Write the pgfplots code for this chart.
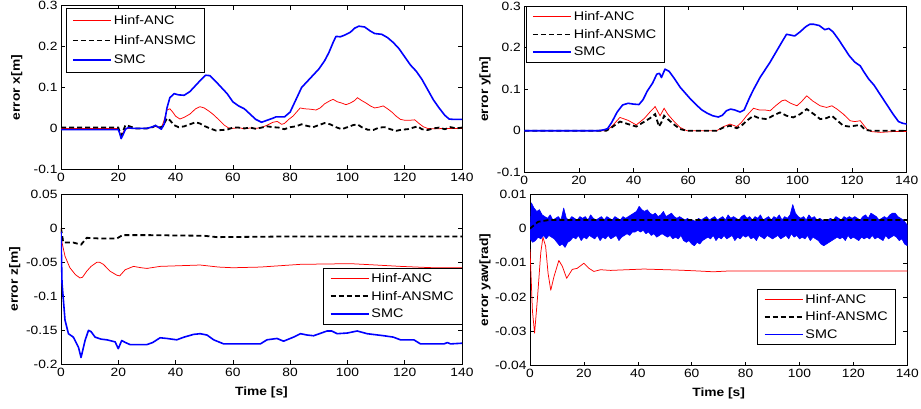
\documentclass[border=0pt]{standalone}
\usepackage{fontspec}
\setmainfont{Liberation Sans}[FakeStretch=1.15]
\usepackage{pgfplots}
\pgfplotsset{compat=1.18}
\pgfplotsset{
 common/.style={
  scale only axis, xmin=0, xmax=140, xtick={0,20,...,140},
  tick align=inside, major tick length=4pt,
  every tick/.style={black, line width=0.5pt},
  axis line style={line width=0.6pt},
  tick label style={font=\fontsize{12}{14}\selectfont},
  /pgf/number format/assume math mode=true,
  /pgf/number format/fixed, /pgf/number format/precision=2,
  scaled ticks=false,
  label style={font=\bfseries\fontsize{12}{14}\selectfont},
  ylabel style={anchor=center},
  legend cell align=left,
  legend style={draw=black, line width=0.5pt, fill=white, font=\fontsize{12.5}{14}\selectfont, inner xsep=6pt, inner ysep=3pt, row sep=3pt},
  legend image code/.code={\draw[##1] (0pt,0pt) -- (38pt,0pt);},
 },
 anc/.style={red, line width=0.75pt},
 ansmc/.style={black, line width=1.8pt, dash pattern=on 5pt off 3pt},
 smc/.style={blue, line width=1.6pt, line join=round},
 smcthin/.style={blue, line width=0.75pt, line join=round},
}
\begin{document}
\begin{tikzpicture}
\useasboundingbox (0,0) rectangle (921pt,408pt);
% ---------------- error x
\begin{axis}[common, at={(61pt,238.7pt)}, anchor=south west, width=401pt, height=163.6pt,
  ymin=-0.1, ymax=0.3, ytick={-0.1,0,0.1,0.2,0.3}, ylabel={error x[m]},
  ylabel style={at={(axis description cs:-0.11,0.5)}},
  legend style={at={(0.012,0.984)}, anchor=north west, inner ysep=5pt, row sep=5pt}]
\addplot[anc] coordinates {(0,0)(20,0)(20.5,-0.01)(21,-0.02)(21.5,-0.012)(22.5,0)(30,0)(32,0.003)(33,0.005)(34,0.002)(35,0)(36,0.02)(37,0.045)(38,0.048)(39,0.04)(40,0.03)(41.5,0.023)(43,0.027)(45,0.035)(47,0.048)(48.5,0.053)(50,0.05)(51.5,0.043)(53,0.035)(55,0.022)(57,0.008)(58.5,0.001)(60,0)(62,0.002)(64,-0.001)(66,0.001)(68,0)(70,0.002)(72,0.008)(74,0.015)(75.5,0.017)(77,0.01)(78,0.012)(79.5,0.022)(81,0.03)(82.5,0.042)(83.5,0.05)(85,0.048)(87,0.047)(89,0.045)(90.5,0.05)(92,0.06)(94,0.068)(95,0.071)(96.5,0.065)(98,0.062)(99.5,0.058)(101,0.062)(102.5,0.068)(103.5,0.075)(105,0.068)(106.5,0.062)(108,0.055)(109.5,0.05)(111,0.052)(112.5,0.055)(114,0.048)(115.5,0.04)(117,0.03)(118.5,0.022)(120,0.02)(122,0.02)(123.5,0.021)(125,0.012)(126.5,0.004)(128,0)(130,-0.001)(135,0)(140,0)};
\addlegendentry{Hinf-ANC}
\addplot[ansmc] coordinates {(0,0.002)(20,0.002)(20.5,-0.008)(21,-0.018)(21.5,-0.01)(22.5,0.008)(24,0.005)(26,0)(30,0)(32,0.003)(33,0.007)(34.5,0.002)(35.5,0.005)(37,0.025)(38,0.02)(39.5,0.008)(41,0.003)(43,0.005)(45,0.01)(47,0.015)(48.5,0.012)(50,0.006)(52,0)(54,-0.005)(56,-0.004)(58,-0.003)(60,0.002)(62,0.002)(64,0)(66,0.002)(68,-0.001)(70,0.002)(72,0.005)(74,0.003)(76,0.002)(78,-0.002)(80,0.003)(82,0.005)(84,0.01)(86,0.006)(88,0.003)(90,0.008)(92,0.013)(94,0.01)(96,0.003)(98,-0.002)(100,0.003)(102,0.008)(103.5,0.01)(105,0.003)(107,-0.003)(109,-0.004)(111,0.002)(113,0.003)(115,-0.002)(117,-0.006)(119,-0.003)(121,-0.002)(123,0.002)(124.5,0.005)(126,-0.002)(128,-0.004)(130,0)(132,0.002)(134,-0.002)(136,0.003)(138,0)(140,0.002)};
\addlegendentry{Hinf-ANSMC}
\addplot[smc] coordinates {(0,-0.003)(20,-0.003)(20.5,-0.012)(21,-0.025)(21.5,-0.018)(22.5,-0.002)(23.5,0.002)(25,0)(30,0)(32,0.004)(33,0.007)(34,0.003)(35,-0.002)(36,0.01)(37,0.05)(38,0.075)(39.5,0.085)(41,0.082)(43,0.081)(45,0.09)(47,0.105)(49,0.12)(50.5,0.13)(52,0.129)(54,0.115)(56,0.1)(58,0.085)(60,0.065)(62,0.055)(64,0.048)(66,0.035)(68,0.022)(70,0.015)(72,0.02)(74,0.025)(75,0.028)(78,0.028)(80,0.04)(82,0.07)(84,0.1)(86,0.115)(88,0.13)(90,0.145)(92,0.165)(93.5,0.185)(95,0.21)(96,0.225)(97.5,0.224)(99,0.228)(101,0.235)(102.5,0.245)(104,0.25)(106,0.248)(108,0.238)(109.5,0.232)(112,0.23)(114,0.222)(116,0.21)(118,0.195)(120,0.175)(122,0.155)(124,0.14)(126,0.12)(128,0.095)(130,0.07)(132,0.05)(134,0.032)(135.5,0.023)(137,0.022)(140,0.022)};
\addlegendentry{SMC}
\end{axis}
% ---------------- error y
\begin{axis}[common, at={(524.3pt,235.7pt)}, anchor=south west, width=382.4pt, height=166.3pt,
  ymin=-0.1, ymax=0.3, ytick={-0.1,0,0.1,0.2,0.3}, ylabel={error y[m]},
  ylabel style={at={(axis description cs:-0.103,0.5)}},
  legend style={at={(0.004,0.998)}, anchor=north west}]
\addplot[anc] coordinates {(0,0)(30,0)(32,0.01)(35,0.032)(38,0.025)(41,0.014)(44,0.03)(46,0.045)(47.9,0.058)(49.7,0.036)(51.2,0.054)(52.5,0.04)(54.6,0.024)(57,0.008)(59.5,0)(70.4,0)(73,0.01)(75.3,0.016)(77.8,0.01)(79.5,0.02)(81.4,0.036)(83.9,0.054)(86,0.05)(88,0.05)(90,0.048)(92,0.06)(94.3,0.072)(95.5,0.074)(97.5,0.066)(99.8,0.06)(101.5,0.07)(103.4,0.084)(105.5,0.072)(108.3,0.06)(110.7,0.056)(112.6,0.06)(114.5,0.052)(116.8,0.04)(119.3,0.024)(121,0.022)(123,0.024)(125.4,0.004)(127,-0.002)(130.3,-0.004)(135,-0.002)(140,-0.002)};
\addlegendentry{Hinf-ANC}
\addplot[ansmc] coordinates {(0,0)(30,0)(32,0.008)(35,0.022)(38,0.016)(41,0.01)(44,0.022)(46,0.03)(47.9,0.04)(49.3,0.01)(50.2,0.02)(51.2,0.036)(52.5,0.028)(54.6,0.016)(57,0.004)(59.5,0)(70.4,0)(73,0.008)(75.3,0.012)(77.8,0.006)(79.5,0.012)(81.4,0.024)(83.9,0.036)(86,0.03)(88.8,0.028)(91,0.036)(93.6,0.044)(96,0.036)(98.5,0.032)(101,0.04)(103.4,0.052)(106,0.04)(108.3,0.028)(110.5,0.03)(112.6,0.036)(114.5,0.025)(116.8,0.012)(119,0.01)(123,0.014)(124.8,0.002)(127,0)(140,0)};
\addlegendentry{Hinf-ANSMC}
\addplot[smc] coordinates {(0,0)(27,0)(29,0.002)(30.5,0.005)(32,0.02)(34,0.045)(36,0.062)(38,0.066)(40,0.064)(42,0.063)(43.5,0.075)(45,0.095)(47,0.115)(48.5,0.136)(49.5,0.138)(50.2,0.128)(51.5,0.148)(53,0.143)(55,0.125)(57,0.105)(59,0.09)(61,0.075)(63,0.062)(65,0.05)(67,0.042)(69,0.036)(71,0.033)(72.5,0.037)(74,0.048)(75.5,0.052)(77,0.05)(79,0.045)(80.5,0.05)(82.5,0.08)(84,0.1)(86.3,0.128)(88,0.145)(90,0.165)(92.4,0.192)(94,0.21)(96,0.232)(97.5,0.23)(99,0.228)(101,0.238)(103,0.25)(104.5,0.256)(106,0.256)(108,0.253)(110,0.243)(111.5,0.246)(113,0.238)(115,0.22)(117,0.2)(119,0.18)(121,0.165)(123,0.156)(124,0.145)(126,0.125)(128,0.11)(129,0.1)(131,0.08)(133,0.06)(135,0.04)(137,0.022)(138.5,0.018)(140,0.016)};
\addlegendentry{SMC}
\end{axis}
% ---------------- error z
\begin{axis}[common, at={(61pt,43.7pt)}, anchor=south west, width=401pt, height=170pt,
  ymin=-0.2, ymax=0.05, ytick={-0.2,-0.15,-0.1,-0.05,0,0.05}, ylabel={error z[m]},
  ylabel style={at={(axis description cs:-0.115,0.5)}},
  xlabel={Time [s]}, xlabel style={at={(axis description cs:0.5,-0.167)}, anchor=center},
  legend style={at={(1,0.565)}, anchor=north east}]
\addplot[anc] coordinates {(0,0)(0.35,-0.021)(1.4,-0.041)(3.1,-0.058)(5,-0.068)(6.6,-0.073)(7.5,-0.072)(9,-0.063)(10.5,-0.056)(12.5,-0.05)(13.5,-0.05)(14.8,-0.053)(17.1,-0.063)(19.5,-0.069)(20.5,-0.07)(22.4,-0.061)(25.3,-0.056)(28,-0.058)(30,-0.059)(34.6,-0.056)(48.6,-0.054)(55,-0.057)(60,-0.058)(69.6,-0.057)(83.6,-0.053)(101,-0.052)(110,-0.054)(118.5,-0.056)(130,-0.058)(140,-0.058)};
\addlegendentry{Hinf-ANC}
\addplot[ansmc] coordinates {(0,0)(0.8,-0.021)(4.3,-0.021)(7,-0.024)(9,-0.014)(13.5,-0.015)(19.5,-0.015)(21.5,-0.01)(30,-0.01)(50,-0.011)(54.5,-0.013)(80,-0.012)(140,-0.012)};
\addlegendentry{Hinf-ANSMC}
\addplot[smc] coordinates {(0,-0.005)(0.35,-0.08)(1.4,-0.135)(2.6,-0.155)(4.3,-0.16)(6.1,-0.175)(7,-0.19)(8.4,-0.165)(9.6,-0.15)(10.5,-0.152)(11.9,-0.16)(14,-0.163)(16,-0.164)(18.9,-0.167)(20,-0.177)(21.2,-0.165)(22.5,-0.168)(24.1,-0.171)(30,-0.171)(32,-0.168)(34.6,-0.161)(37,-0.162)(40.4,-0.164)(43,-0.16)(46.3,-0.156)(48.6,-0.155)(51,-0.157)(53.3,-0.164)(56.8,-0.17)(69.6,-0.17)(71.9,-0.164)(75.4,-0.162)(77.7,-0.166)(81.2,-0.16)(83.6,-0.155)(86,-0.157)(88.2,-0.158)(92.9,-0.151)(94.5,-0.151)(96.4,-0.155)(100,-0.154)(103.4,-0.151)(106.9,-0.155)(112.7,-0.158)(116,-0.16)(118.5,-0.164)(123.2,-0.164)(125.5,-0.17)(133.7,-0.17)(134.9,-0.168)(136,-0.17)(140,-0.169)};
\addlegendentry{SMC}
\end{axis}
% ---------------- error yaw
\begin{axis}[common, at={(530pt,42.3pt)}, anchor=south west, width=377.3pt, height=171.4pt,
  ymin=-0.04, ymax=0.01, ytick={-0.04,-0.03,-0.02,-0.01,0,0.01}, ylabel={error yaw[rad]},
  ylabel style={at={(axis description cs:-0.119,0.5)}},
  xlabel={Time [s]}, xlabel style={at={(axis description cs:0.5,-0.161)}, anchor=center},
  legend style={at={(0.97,0.4475)}, anchor=north east}]
\addplot[anc, line join=round] coordinates {(0,-0.006)(0.9,-0.024)(1.7,-0.0305)(2.7,-0.021)(4,-0.007)(4.8,-0.0025)(5.8,-0.0052)(6.7,-0.013)(7.7,-0.018)(8.9,-0.014)(10.7,-0.0093)(12,-0.011)(13.6,-0.0145)(15.7,-0.0119)(17.5,-0.0116)(20,-0.0101)(21.9,-0.0116)(23.7,-0.0125)(26.2,-0.012)(29.9,-0.0122)(42.2,-0.0118)(54.6,-0.0121)(60.7,-0.0123)(68,-0.0126)(73,-0.0124)(140,-0.0124)};
\addlegendentry{Hinf-ANC}
% SMC yaw error: upper edge of the fast oscillation (forward), then lower edge (backward)
\addplot[blue, fill=blue, line width=0.6pt, line join=round, forget plot] coordinates {
(0,-0.002)(0.5,0.0075)(1.5,0.006)(2.5,0.005)(3.5,0.0055)(4.5,0.004)(5.5,0.0035)(6.5,0.003)(7.5,0.004)(8.5,0.0025)(9.5,0.003)
(10.5,0.0035)(11.5,0.0025)(12.5,0.006)(13.5,0.003)(14.5,0.0025)(15.5,0.0035)(16.5,0.003)(17.5,0.0025)(18.5,0.0035)(19.5,0.003)
(20.5,0.0035)(21.5,0.0025)(22.5,0.004)(23.5,0.003)(24.5,0.0025)(25.5,0.003)(26.5,0.0035)(27.5,0.0025)(28.5,0.0035)(29.5,0.003)
(30.5,0.0025)(31.5,0.0035)(32.5,0.003)(33.5,0.0025)(34.5,0.0035)(35.5,0.003)(36.5,0.0035)(37.5,0.004)(38.5,0.0045)(39.5,0.005)
(40.5,0.0065)(41.5,0.0055)(42.5,0.005)(43.5,0.0055)(44.5,0.0045)(45.5,0.004)(46.5,0.0045)(47.5,0.0035)(48.5,0.004)(49.5,0.005)
(50.5,0.0035)(51.5,0.004)(52.5,0.0045)(53.5,0.0035)(54.5,0.003)(55.5,0.0035)(56.5,0.003)(57.5,0.0025)(58.5,0.003)(59.5,0.002)
(60.5,0.0025)(61.5,0.002)(62.5,0.003)(63.5,0.0025)(64.5,0.003)(65.5,0.0035)(66.5,0.0025)(67.5,0.003)(68.5,0.0035)(69.5,0.0025)
(70.5,0.003)(71.5,0.0035)(72.5,0.0025)(73.5,0.004)(74.5,0.003)(75.5,0.0035)(76.5,0.003)(77.5,0.0025)(78.5,0.0035)(79.5,0.004)
(80.5,0.003)(81.5,0.0035)(82.5,0.0025)(83.5,0.0035)(84.5,0.003)(85.5,0.004)(86.5,0.0025)(87.5,0.003)(88.5,0.0035)(89.5,0.0025)
(90.5,0.0035)(91.5,0.003)(92.5,0.004)(93.5,0.0025)(94.5,0.0035)(95.5,0.003)(96.5,0.004)(97.5,0.007)(98.5,0.0045)(99.5,0.0035)
(100.5,0.003)(101.5,0.0035)(102.5,0.0025)(103.5,0.004)(104.5,0.003)(105.5,0.0035)(106.5,0.0025)(107.5,0.003)(108.5,0.0025)(109.5,0.002)
(110.5,0.0025)(111.5,0.003)(112.5,0.0025)(113.5,0.0035)(114.5,0.003)(115.5,0.0025)(116.5,0.0035)(117.5,0.003)(118.5,0.0035)(119.5,0.003)
(120.5,0.0035)(121.5,0.003)(122.5,0.0025)(123.5,0.0035)(124.5,0.004)(125.5,0.003)(126.5,0.0045)(127.5,0.004)(128.5,0.0035)(129.5,0.0025)
(130.5,0.003)(131.5,0.0035)(132.5,0.003)(133.5,0.004)(134.5,0.0045)(135.5,0.0045)(136.5,0.0035)(137.5,0.003)(138.5,0.0025)(139.5,0.0015)
(140,0.001)
(140,-0.005)(139,-0.0045)(138,-0.003)(137,-0.0035)(136,-0.0025)(135,-0.002)(134,-0.0025)(133,-0.003)(132,-0.002)(131,-0.0035)
(130,-0.003)(129,-0.0025)(128,-0.003)(127,-0.002)(126,-0.003)(125,-0.0025)(124,-0.003)(123,-0.0025)(122,-0.0035)(121,-0.003)
(120,-0.0025)(119,-0.003)(118,-0.002)(117,-0.0035)(116,-0.0025)(115,-0.003)(114,-0.0025)(113,-0.003)(112,-0.0035)(111,-0.004)
(110,-0.0045)(109,-0.005)(108,-0.0045)(107,-0.0035)(106,-0.003)(105,-0.0025)(104,-0.0035)(103,-0.002)(102,-0.003)(101,-0.0025)
(100,-0.003)(99,-0.002)(98,-0.0025)(97,-0.0015)(96,-0.003)(95,-0.002)(94,-0.0025)(93,-0.003)(92,-0.002)(91,-0.0025)
(90,-0.003)(89,-0.0025)(88,-0.002)(87,-0.003)(86,-0.0025)(85,-0.002)(84,-0.0035)(83,-0.0025)(82,-0.003)(81,-0.002)
(80,-0.0025)(79,-0.002)(78,-0.003)(77,-0.0025)(76,-0.0035)(75,-0.002)(74,-0.0025)(73,-0.003)(72,-0.002)(71,-0.003)
(70,-0.0025)(69,-0.0035)(68,-0.002)(67,-0.003)(66,-0.0025)(65,-0.003)(64,-0.0035)(63,-0.0045)(62,-0.004)(61,-0.005)
(60,-0.0045)(59,-0.0035)(58,-0.004)(57,-0.0035)(56,-0.002)(55,-0.003)(54,-0.0025)(53,-0.003)(52,-0.002)(51,-0.0025)
(50,-0.002)(49,-0.0015)(48,-0.002)(47,-0.0025)(46,-0.0015)(45,-0.002)(44,-0.001)(43,-0.0015)(42,-0.0005)(41,-0.001)
(40,-0.0005)(39,-0.001)(38,-0.001)(37,-0.002)(36,-0.0015)(35,-0.002)(34,-0.0025)(33,-0.0035)(32,-0.002)(31,-0.0025)
(30,-0.003)(29,-0.002)(28,-0.003)(27,-0.0025)(26,-0.0035)(25,-0.002)(24,-0.003)(23,-0.0025)(22,-0.002)(21,-0.003)
(20,-0.0025)(19,-0.0035)(18,-0.002)(17,-0.003)(16,-0.0025)(15,-0.0035)(14,-0.004)(13,-0.0055)(12,-0.0045)(11,-0.005)
(10,-0.004)(9,-0.003)(8,-0.0025)(7,-0.002)(6,-0.003)(5,-0.002)(4,-0.003)(3,-0.0025)(2,-0.0035)(1,-0.004)(0,-0.003)};
\addplot[ansmc] coordinates {(0,0)(3,0.002)(7,0.0025)(140,0.0025)};
\addlegendentry{Hinf-ANSMC}
\addlegendimage{smcthin}
\addlegendentry{SMC}
\end{axis}
\end{tikzpicture}
\end{document}
